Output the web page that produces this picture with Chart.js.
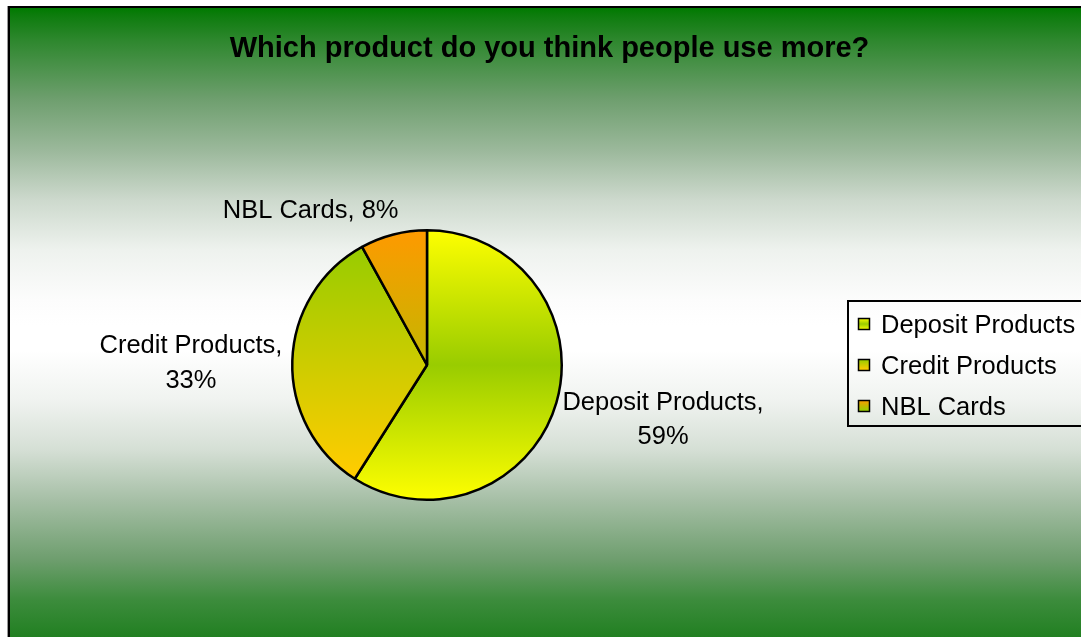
<!DOCTYPE html>
<html>
<head>
<meta charset="utf-8">
<title>Which product do you think people use more?</title>
<script src="https://cdn.jsdelivr.net/npm/chart.js@4.4.1/dist/chart.umd.min.js"></script>
<style>
  html, body { margin: 0; padding: 0; background: #ffffff; }
  #wrap { position: relative; width: 1081px; height: 637px; }
  canvas { display: block; }
</style>
</head>
<body>
<div id="wrap"><canvas id="chart" width="1081" height="637"></canvas></div>
<script>
// ---- data ----
const chartTitle = 'Which product do you think people use more?';
const categories = ['Deposit Products', 'Credit Products', 'NBL Cards'];
const shares = [59, 33, 8];            // percent of respondents
const shareLabels = ['59%', '33%', '8%'];

// ---- styling ----
const FONT = '"Liberation Sans", Arial, Helvetica, sans-serif';

// vertical gradient stops for each slice (0 = top of pie, 1 = bottom)
const sliceStops = [
  [[0, '#FFFF00'], [0.5, '#99CC00'], [1, '#FFFF00']],
  [[0, '#99CC00'], [0.08, '#99CC00'], [0.9, '#FFCC00'], [1, '#FFCC00']],
  [[0, '#FF9900'], [0.85, '#99CC00'], [1, '#99CC00']]
];

// data-label placement relative to the slice's outer edge at its mid-angle
const labelLayout = [
  { lines: (i) => [categories[i] + ',', shareLabels[i]], align: 'left',  dx: 6,  dy: 7,   lh: 34 },
  { lines: (i) => [categories[i] + ',', shareLabels[i]], align: 'right', dx: -10, dy: -8, lh: 35 },
  { lines: (i) => [categories[i] + ', ' + shareLabels[i]], align: 'right', dx: 5, dy: -16, lh: 34 }
];

function makeGradient(ctx, top, bottom, stops) {
  const g = ctx.createLinearGradient(0, top, 0, bottom);
  stops.forEach(([o, c]) => g.addColorStop(o, c));
  return g;
}

// backdrop: green -> white -> green band behind the whole chart
const backdropPlugin = {
  id: 'backdrop',
  beforeDraw(chart) {
    const ctx = chart.ctx;
    ctx.save();
    ctx.fillStyle = '#ffffff';
    ctx.fillRect(0, 0, chart.width, chart.height);
    const top = 8, bottom = 642;
    const g = ctx.createLinearGradient(0, top, 0, bottom);
    [
      [0, 'rgb(0,122,0)'], [0.0126, 'rgb(14,124,14)'], [0.05, 'rgb(45,135,45)'],
      [0.145, 'rgb(111,159,111)'], [0.224, 'rgb(155,184,155)'], [0.303, 'rgb(205,217,205)'],
      [0.382, 'rgb(238,242,238)'], [0.46, 'rgb(252,252,252)'], [0.5, '#ffffff'],
      [0.54, '#ffffff'], [0.618, 'rgb(240,243,240)'], [0.697, 'rgb(213,223,213)'],
      [0.776, 'rgb(166,191,166)'], [0.87, 'rgb(110,158,110)'], [0.934, 'rgb(60,140,60)'],
      [1, 'rgb(30,126,30)']
    ].forEach(([o, c]) => g.addColorStop(o, c));
    ctx.fillStyle = g;
    ctx.fillRect(10, 8, chart.width - 10, chart.height - 8);
    // frame
    ctx.fillStyle = '#9a9a9a';
    ctx.fillRect(7, 6, 1, chart.height);
    ctx.fillStyle = '#000000';
    ctx.fillRect(8, 6, chart.width, 2);
    ctx.fillRect(8, 6, 2, chart.height);
    // title
    ctx.fillStyle = '#000000';
    ctx.font = 'bold 29px ' + FONT;
    ctx.textAlign = 'center';
    ctx.textBaseline = 'alphabetic';
    ctx.fillText(chartTitle, 549.5, 57);
    ctx.restore();
  }
};

// outside-end data labels
const sliceLabelPlugin = {
  id: 'sliceLabels',
  afterDatasetsDraw(chart) {
    const ctx = chart.ctx;
    const meta = chart.getDatasetMeta(0);
    ctx.save();
    ctx.fillStyle = '#000000';
    ctx.font = '25.5px ' + FONT;
    ctx.textBaseline = 'alphabetic';
    ctx.textAlign = 'center';
    meta.data.forEach((arc, i) => {
      const p = arc.getProps(['x', 'y', 'startAngle', 'endAngle', 'outerRadius'], true);
      const mid = (p.startAngle + p.endAngle) / 2;
      const ex = p.x + Math.cos(mid) * p.outerRadius;
      const ey = p.y + Math.sin(mid) * p.outerRadius;
      const L = labelLayout[i];
      const lines = L.lines(i);
      const w = Math.max(...lines.map(t => ctx.measureText(t).width));
      let cx;
      if (L.align === 'left') cx = ex + L.dx + w / 2;
      else if (L.align === 'right') cx = ex + L.dx - w / 2;
      else cx = ex + L.dx;
      lines.forEach((t, k) => ctx.fillText(t, cx, ey + L.dy + k * L.lh));
    });
    ctx.restore();
  }
};

// boxed legend on the right
const boxLegendPlugin = {
  id: 'boxLegend',
  afterDraw(chart) {
    const ctx = chart.ctx;
    ctx.save();
    ctx.strokeStyle = '#000000';
    ctx.lineWidth = 2;
    ctx.strokeRect(848, 301, 260, 125);
    ctx.font = '25.5px ' + FONT;
    ctx.textBaseline = 'alphabetic';
    ctx.textAlign = 'left';
    categories.forEach((name, i) => {
      const base = 333 + i * 41;
      const sx = 858, sy = base - 15, s = 12;
      ctx.fillStyle = makeGradient(ctx, sy, sy + s, sliceStops[i]);
      ctx.fillRect(sx, sy, s, s);
      ctx.lineWidth = 1.5;
      ctx.strokeStyle = '#000000';
      ctx.strokeRect(sx + 0.5, sy + 0.5, s - 1, s - 1);
      ctx.fillStyle = '#000000';
      ctx.fillText(name, 881, base);
    });
    ctx.restore();
  }
};

const ctx = document.getElementById('chart').getContext('2d');
new Chart(ctx, {
  type: 'pie',
  data: {
    labels: categories,
    datasets: [{
      data: shares,
      backgroundColor: (c) => {
        const area = c.chart.chartArea;
        if (!area) return '#99CC00';
        return makeGradient(c.chart.ctx, area.top, area.bottom, sliceStops[c.dataIndex]);
      },
      borderColor: '#000000',
      borderWidth: 2.5,
      hoverOffset: 0
    }]
  },
  options: {
    responsive: false,
    devicePixelRatio: 1,
    animation: false,
    rotation: 0,
    layout: { padding: { left: 291, right: 518, top: 229, bottom: 136 } },
    plugins: {
      legend: { display: false },
      title: { display: false },
      tooltip: { enabled: false }
    },
    events: []
  },
  plugins: [backdropPlugin, sliceLabelPlugin, boxLegendPlugin]
});
</script>
</body>
</html>
